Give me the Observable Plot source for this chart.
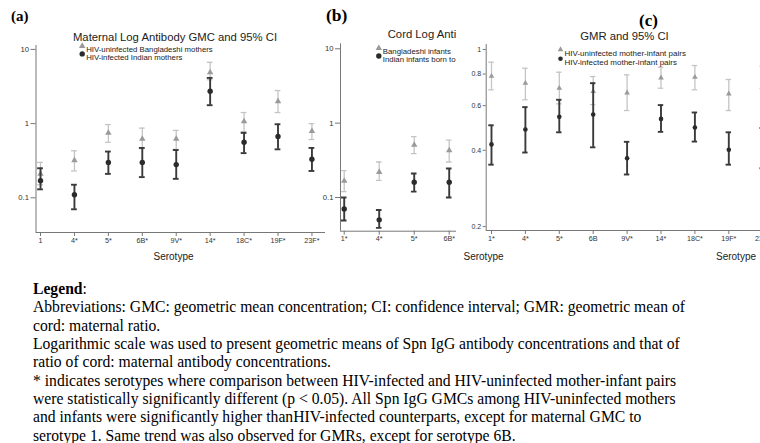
<!DOCTYPE html>
<html><head><meta charset="utf-8">
<script src="https://cdn.jsdelivr.net/npm/d3@7"></script>
<script src="https://cdn.jsdelivr.net/npm/@observablehq/plot@0.6"></script>
<style>
body{margin:0;background:#fff;}
#page{position:relative;width:760px;height:443px;overflow:hidden;background:#fff;}
.panel{position:absolute;top:0;width:340px;}
.panel svg{max-width:none !important;}
#pb{clip-path:polygon(0 0,350px 0,350px 22px,156px 22px,156px 250px,350px 250px,350px 280px,0 280px);}
.plab{position:absolute;font-family:"Liberation Serif","Times New Roman",serif;font-weight:bold;line-height:1;color:#000;}
#cover{position:absolute;left:456px;top:22px;width:304px;height:228px;background:#fff;}
#notes{position:absolute;left:33px;top:280px;font-family:"Liberation Serif","Times New Roman",serif;font-size:15.65px;line-height:18.35px;color:#000;white-space:nowrap;}
</style></head>
<body><div id="page">
<div class="panel" id="pa" style="left:0px"></div>
<div class="panel" id="pb" style="left:300px;width:350px"></div>
<div id="cover"></div>
<div class="panel" id="pc" style="left:458px"></div>
<div class="plab" style="left:11px;top:9px;font-size:15px">(a)</div>
<div class="plab" style="left:326px;top:7px;font-size:17.5px">(b)</div>
<div class="plab" style="left:639px;top:12px;font-size:17px">(c)</div>
<div id="notes">
<div><b>Legend</b>:</div>
<div>Abbreviations: GMC: geometric mean concentration; CI: confidence interval; GMR: geometric mean of</div>
<div>cord: maternal ratio.</div>
<div>Logarithmic scale was used to present geometric means of Spn IgG antibody concentrations and that of</div>
<div>ratio of cord: maternal antibody concentrations.</div>
<div>* indicates serotypes where comparison between HIV-infected and HIV-uninfected mother-infant pairs</div>
<div>were statistically significantly different (p &lt; 0.05). All Spn IgG GMCs among HIV-uninfected mothers</div>
<div>and infants were significantly higher thanHIV-infected counterparts, except for maternal GMC to</div>
<div>serotype 1. Same trend was also observed for GMRs, except for serotype 6B.</div>
</div>
</div>
<script>
// ---- Panel (a): maternal GMC ----
const serotypesA = ["1","4*","5*","6B*","9V*","14*","18C*","19F*","23F*"];
const matUninf   = [0.21, 0.32, 0.75, 0.62, 0.62, 4.9, 1.07, 2.0, 0.79];
const matUninfLo = [0.15, 0.23, 0.56, 0.46, 0.45, 3.9, 0.78, 1.41, 0.61];
const matUninfHi = [0.30, 0.43, 0.97, 0.87, 0.81, 6.7, 1.41, 2.79, 1.0];
const matInf     = [0.17, 0.11, 0.30, 0.30, 0.28, 2.73, 0.56, 0.67, 0.33];
const matInfLo   = [0.13, 0.07, 0.21, 0.19, 0.18, 1.77, 0.40, 0.45, 0.23];
const matInfHi   = [0.25, 0.15, 0.42, 0.47, 0.44, 4.13, 0.75, 0.98, 0.47];

// ---- Panel (b): cord GMC (only the serotypes not hidden behind panel c) ----
const serotypesB = ["1*","4*","5*","6B*"];
const cordUninf   = [0.167, 0.22, 0.51, 0.43];
const cordUninfLo = [0.12, 0.17, 0.39, 0.30];
const cordUninfHi = [0.23, 0.30, 0.66, 0.59];
const cordInf     = [0.07, 0.05, 0.16, 0.16];
const cordInfLo   = [0.049, 0.039, 0.12, 0.10];
const cordInfHi   = [0.10, 0.068, 0.21, 0.245];

// ---- Panel (c): GMR ----
const serotypesC = ["1*","4*","5*","6B","9V*","14*","18C*","19F*","23F*"];
const gmrUninf   = [0.784, 0.736, 0.703, 0.683, 0.674, 0.773, 0.777, 0.668, 0.78];
const gmrUninfLo = [0.693, 0.633, 0.61, 0.606, 0.574, 0.703, 0.693, 0.574, 0.70];
const gmrUninfHi = [0.891, 0.843, 0.813, 0.782, 0.794, 0.851, 0.864, 0.761, 0.86];
const gmrInf     = [0.422, 0.483, 0.542, 0.554, 0.372, 0.532, 0.492, 0.402, 0.41];
const gmrInfLo   = [0.351, 0.392, 0.471, 0.411, 0.321, 0.473, 0.433, 0.351, 0.34];
const gmrInfHi   = [0.502, 0.592, 0.633, 0.736, 0.432, 0.603, 0.564, 0.471, 0.49];

const GRAY_PT = "#9a9a9a", GRAY_CI = "#c4c4c4", DARK_PT = "#2b2b2b", DARK_CI = "#3a3a3a", AXIS = "#777";
const FONT = "'Liberation Sans', Arial, Helvetica, sans-serif";

function rows(v, lo, hi) { return v.map((d, i) => ({i, v: d, lo: lo[i], hi: hi[i]})); }

function makePanel(c) {
  const g = rows(c.gray, c.grayLo, c.grayHi);
  const k = rows(c.dark, c.darkLo, c.darkHi);
  const cap = c.cap;
  return Plot.plot({
    width: c.width, height: c.height,
    marginLeft: c.mL, marginRight: c.mR, marginTop: c.mT, marginBottom: c.mB,
    style: {fontFamily: FONT, background: "transparent", overflow: "visible", maxWidth: "none"},
    x: {type: "linear", domain: c.xDomain, label: null},
    y: {type: "log", domain: c.yDomain, label: null},
    marks: [
      Plot.ruleX([c.xDomain[0]], {stroke: AXIS, strokeWidth: 1}),
      Plot.ruleY([c.yDomain[0]], {stroke: AXIS, strokeWidth: 1}),
      Plot.axisY({ticks: c.yTicks, tickFormat: c.yFmt, tickSize: c.yTickSize, tickPadding: 2, fontSize: c.yFont, stroke: AXIS, fill: "#333", label: null}),
      Plot.axisX({ticks: d3.range(c.labels.length), tickFormat: i => c.labels[i], tickSize: 4, tickPadding: 1, fontSize: c.xFont, stroke: AXIS, fill: "#333", label: null}),
      // gray series
      Plot.ruleX(g, {x: "i", y1: "lo", y2: "hi", stroke: GRAY_CI, strokeWidth: 1.3}),
      Plot.ruleY(g, {y: "lo", x1: d => d.i - cap, x2: d => d.i + cap, stroke: GRAY_CI, strokeWidth: 1.3}),
      Plot.ruleY(g, {y: "hi", x1: d => d.i - cap, x2: d => d.i + cap, stroke: GRAY_CI, strokeWidth: 1.3}),
      Plot.dot(g, {x: "i", y: "v", symbol: "triangle", r: c.rTri, fill: GRAY_PT, stroke: "none"}),
      // dark series
      Plot.ruleX(k, {x: "i", y1: "lo", y2: "hi", stroke: DARK_CI, strokeWidth: 1.9}),
      Plot.ruleY(k, {y: "lo", x1: d => d.i - cap, x2: d => d.i + cap, stroke: DARK_CI, strokeWidth: 1.9}),
      Plot.ruleY(k, {y: "hi", x1: d => d.i - cap, x2: d => d.i + cap, stroke: DARK_CI, strokeWidth: 1.9}),
      Plot.dot(k, {x: "i", y: "v", r: c.rDot, fill: DARK_PT, stroke: "none"}),
      // title & x label
      Plot.text([c.title], {text: d => d, frameAnchor: "top", dx: c.tDx, dy: c.tDy, fontSize: 11.3, fill: "#222"}),
      Plot.text(["Serotype"], {text: d => d, frameAnchor: "bottom", dx: c.sDx, dy: c.sDy, fontSize: 10, fill: "#222"}),
      // legend
      Plot.dot([0], {frameAnchor: "top-left", dx: c.lgX, dy: c.lgY1, symbol: "triangle", r: c.rTri, fill: GRAY_PT}),
      Plot.dot([0], {frameAnchor: "top-left", dx: c.lgX, dy: c.lgY2, r: c.rDot, fill: DARK_PT}),
      Plot.text([c.leg1], {text: d => d, frameAnchor: "top-left", dx: c.lgX + 4, dy: c.lgY1 + 0.6, textAnchor: "start", fontSize: c.lgFont, fill: "#222"}),
      Plot.text([c.leg2], {text: d => d, frameAnchor: "top-left", dx: c.lgX + 4, dy: c.lgY2 + 0.6, textAnchor: "start", fontSize: c.lgFont, fill: "#222"})
    ]
  });
}

const fmtGMC = d => d >= 1 ? String(d) : d.toFixed(1);

document.getElementById("pa").appendChild(makePanel({
  labels: serotypesA, gray: matUninf, grayLo: matUninfLo, grayHi: matUninfHi,
  dark: matInf, darkLo: matInfLo, darkHi: matInfHi,
  width: 330, height: 275, mL: 35.5, mR: 5, mT: 45, mB: 43,
  xDomain: [-0.133, 8.4], yDomain: [0.03405, 11.29], yTicks: [0.1, 1, 10], yFmt: fmtGMC,
  yTickSize: 5, yFont: 7.7, xFont: 7.2, cap: 0.085, rTri: 2.4, rDot: 2.7,
  title: "Maternal Log Antibody GMC and 95% CI", tDx: -5.75, tDy: -12.3, sDx: -7.25, sDy: 27.3,
  leg1: "HIV-uninfected Bangladeshi mothers", leg2: "HIV-infected Indian mothers",
  lgX: 46.2, lgY1: 0.6, lgY2: 8.4, lgFont: 7.8
}));

document.getElementById("pb").appendChild(makePanel({
  labels: serotypesB, gray: cordUninf, grayLo: cordUninfLo, grayHi: cordUninfHi,
  dark: cordInf, darkLo: cordInfLo, darkHi: cordInfHi,
  width: 345, height: 275, mL: 40, mR: 5, mT: 43.3, mB: 44.3,
  xDomain: [-0.106, 8.465], yDomain: [0.0352, 11.67], yTicks: [0.1, 1, 10], yFmt: fmtGMC,
  yTickSize: 5, yFont: 7.7, xFont: 7.2, cap: 0.08, rTri: 2.4, rDot: 2.7,
  title: "Cord Log Antibody GMC and 95% CI", tDx: -10.5, tDy: -14, sDx: -7, sDy: 28.3,
  leg1: "Bangladeshi infants", leg2: "Indian infants born to",
  lgX: 38.3, lgY1: 4.4, lgY2: 12.2, lgFont: 7.8
}));

document.getElementById("pc").appendChild(makePanel({
  labels: serotypesC, gray: gmrUninf, grayLo: gmrUninfLo, grayHi: gmrUninfHi,
  dark: gmrInf, darkLo: gmrInfLo, darkHi: gmrInfHi,
  width: 330, height: 275, mL: 27.7, mR: 10, mT: 44, mB: 45,
  xDomain: [-0.156, 8.466], yDomain: [0.193, 1.046], yTicks: [0.2, 0.4, 0.6, 0.8, 1], yFmt: d => d === 1 ? "1" : d.toFixed(1),
  yTickSize: 3, yFont: 7, xFont: 7.2, cap: 0.08, rTri: 2.1, rDot: 2.3,
  title: "GMR and 95% CI", tDx: -7.85, tDy: -12.3, sDx: 103.65, sDy: 29,
  leg1: "HIV-uninfected mother-infant pairs", leg2: "HIV-infected mother-infant pairs",
  lgX: 74.3, lgY1: 5, lgY2: 14.3, lgFont: 8
}));
</script>
</body></html>
